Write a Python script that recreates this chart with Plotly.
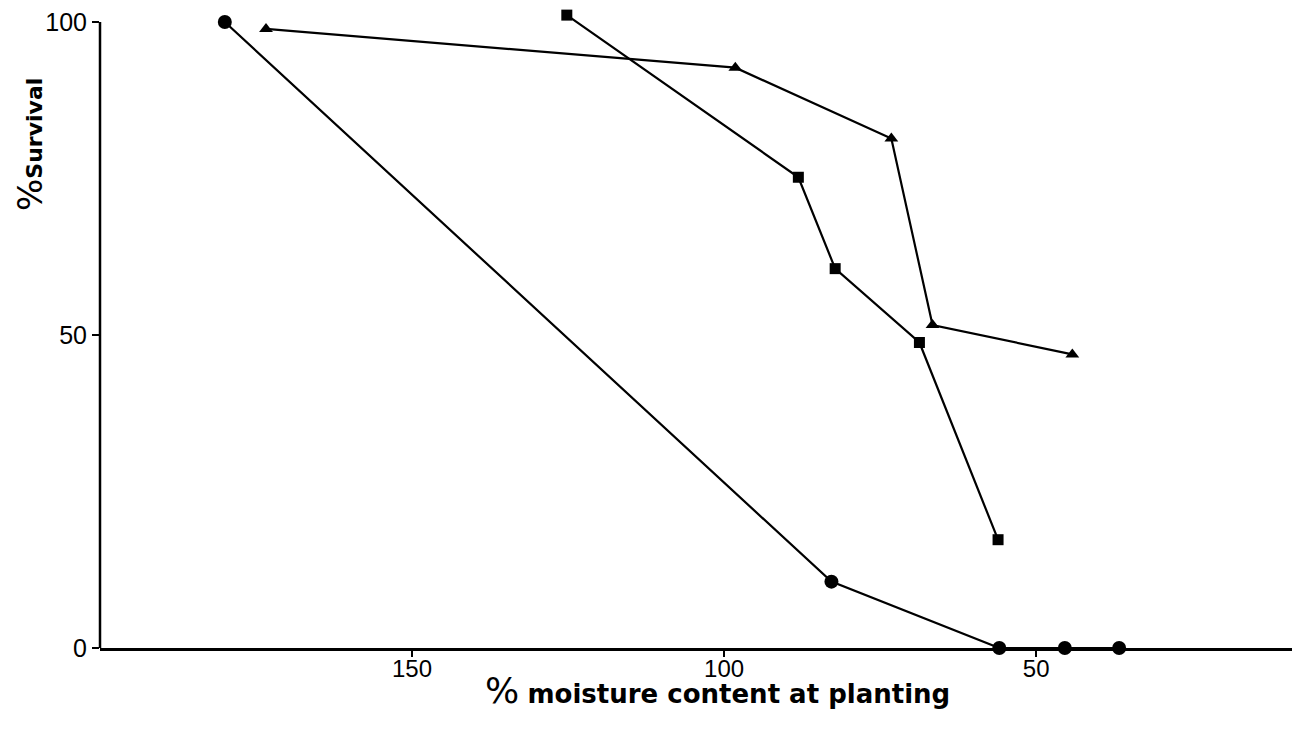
import plotly.graph_objects as go

# Data (x = % moisture content at planting, y = % survival)
circle_x = [180, 82.8, 55.9, 45.4, 36.7]
circle_y = [100, 10.6, 0, 0, 0]

triangle_x = [173.4, 98.2, 73.2, 66.6, 44.2]
triangle_y = [98.9, 92.7, 81.4, 51.6, 46.9]

square_x = [125.2, 88.1, 82.2, 68.7, 56.1]
square_y = [101.1, 75.2, 60.6, 48.8, 17.3]

x_ticks = [150, 100, 50]
y_ticks = [0, 50, 100]

fig = go.Figure()
line_style = dict(color="black", width=2.2)
fig.add_trace(go.Scatter(x=circle_x, y=circle_y, mode="lines+markers",
                         line=line_style, cliponaxis=False,
                         marker=dict(symbol="circle", size=14, color="black")))
fig.add_trace(go.Scatter(x=triangle_x, y=triangle_y, mode="lines+markers",
                         line=line_style, cliponaxis=False,
                         marker=dict(symbol="triangle-up", size=12, color="black")))
fig.add_trace(go.Scatter(x=square_x, y=square_y, mode="lines+markers",
                         line=line_style, cliponaxis=False,
                         marker=dict(symbol="square", size=11, color="black")))

font_family = "Liberation Sans, Arial, sans-serif"
top = 3
plot_h = 648 - top
y_top = 100 * plot_h / 626.0

fig.update_layout(
    width=1292, height=735,
    margin=dict(l=100, r=0, t=top, b=87),
    paper_bgcolor="white", plot_bgcolor="white",
    showlegend=False,
    font=dict(family=font_family, color="black", size=25),
    xaxis=dict(range=[200, 9], tickvals=x_ticks, ticktext=[str(v) for v in x_ticks],
               showline=True, linecolor="black", linewidth=2.5, showgrid=False,
               zeroline=False, ticks="outside", ticklen=6, tickwidth=2,
               tickcolor="black", tickfont=dict(size=24), ticklabelstandoff=-9),
    yaxis=dict(range=[0, y_top], tickvals=y_ticks, ticktext=[str(v) for v in y_ticks],
               showline=False, showgrid=False,
               zeroline=False, ticks="outside", ticklen=7, tickwidth=2,
               tickcolor="black", tickfont=dict(size=25)),
    shapes=[dict(type="line", xref="paper", yref="y", x0=0, x1=0, y0=0, y1=100,
                 line=dict(color="black", width=2.5))],
    annotations=[
        dict(text="<span style='font-size:36px'>%</span> <b>moisture content at planting</b>",
             xref="paper", yref="paper", x=(717 - 100) / 1192, y=-(690 - 648) / plot_h,
             xanchor="center", yanchor="middle", showarrow=False,
             font=dict(size=26, family="DejaVu Sans, sans-serif")),
        dict(text="<span style='font-size:34px'>%</span><b>Survival</b>",
             xref="paper", yref="paper", x=-70 / 1192, y=(648 - 145) / plot_h,
             xanchor="center", yanchor="middle", showarrow=False, textangle=-90,
             font=dict(size=22, family="DejaVu Sans, sans-serif")),
    ],
)

fig.write_html("out.html", config={"displayModeBar": False},
               post_script="document.body.style.margin='0';")
